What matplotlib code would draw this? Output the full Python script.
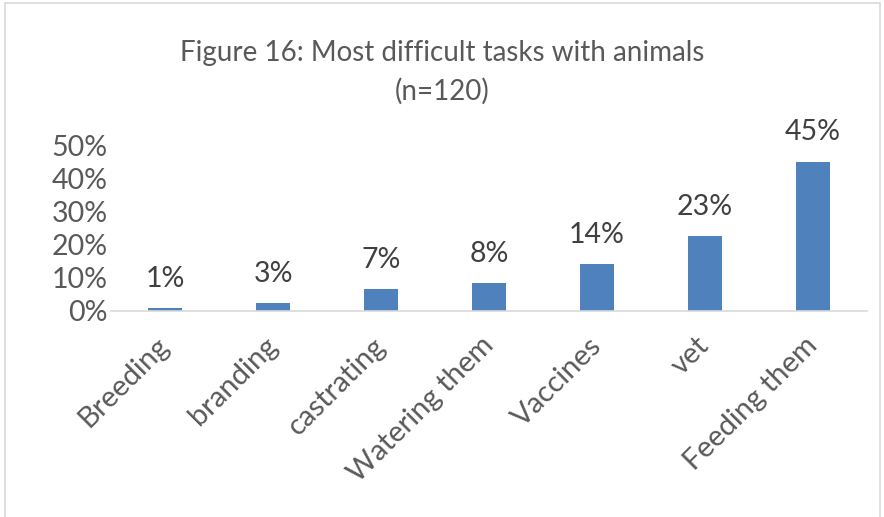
import matplotlib.pyplot as plt
import matplotlib.patches as patches
from matplotlib.ticker import PercentFormatter

# data
tasks = ["Breeding", "branding", "castrating", "Watering them", "Vaccines", "vet", "Feeding them"]
shares = [0.0083, 0.025, 0.067, 0.083, 0.142, 0.225, 0.45]
share_labels = ["1%", "3%", "7%", "8%", "14%", "23%", "45%"]
y_ticks = [0, 0.1, 0.2, 0.3, 0.4, 0.5]

plt.rcParams['font.family'] = ['Lato', 'DejaVu Sans']

fig = plt.figure(figsize=(8.84, 5.17), dpi=100)
ax = fig.add_axes([0.1256, 0.3985, 0.8554, 0.321])

x = range(len(tasks))
ax.bar(x, shares, width=0.315, color="#4F81BD")

for xi, v, lab in zip(x, shares, share_labels):
    ax.annotate(lab, (xi, v), xytext=(0, 21), textcoords="offset points",
                ha="center", va="center", fontsize=20.5, color="#404040", annotation_clip=False)

ax.set_xlim(-0.5, len(tasks) - 0.5)
ax.set_ylim(0, 0.5)
ax.set_yticks(y_ticks)
ax.yaxis.set_major_formatter(PercentFormatter(1.0, decimals=0))
ax.set_xticks(list(x))
ax.set_xticklabels(tasks, rotation=45, ha="right", va="center", rotation_mode="anchor")

for s in ["top", "right", "left"]:
    ax.spines[s].set_visible(False)
ax.spines["bottom"].set_color("#D9D9D9")
ax.spines["bottom"].set_linewidth(1.2)
ax.tick_params(axis="both", length=0, labelsize=20.5, colors="#595959")
ax.tick_params(axis="x", labelsize=21, pad=22)
ax.tick_params(axis="y", pad=2.5)

fig.text(0.5, 0.897, "Figure 16: Most difficult tasks with animals", ha="center", va="center",
         fontsize=20, color="#595959")
fig.text(0.5, 0.823, "(n=120)", ha="center", va="center", fontsize=20, color="#595959")

# chart border
fig.patches.append(patches.Rectangle((0.006, -0.01), 0.99, 1.004, transform=fig.transFigure,
                                     fill=False, edgecolor="#D9D9D9", linewidth=1.2))

fig.savefig("out.png", dpi=100)
